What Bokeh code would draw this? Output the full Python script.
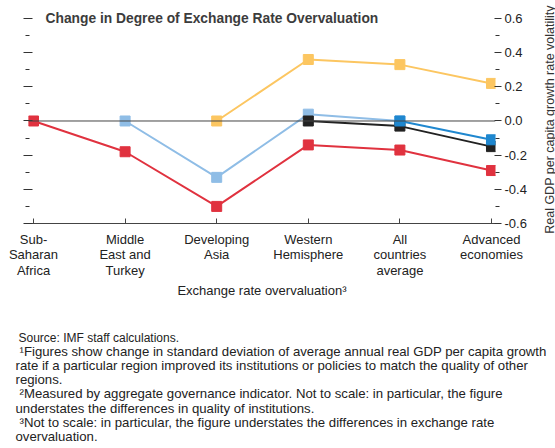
import numpy as np
from bokeh.plotting import figure
from bokeh.layouts import column, row
from bokeh.models import Range1d, LinearAxis, FixedTicker, Span, Label
from bokeh.embed import file_html
from bokeh.resources import INLINE

# ---- data ----
categories = ["Sub-\nSaharan\nAfrica", "Middle\nEast and\nTurkey", "Developing\nAsia",
              "Western\nHemisphere", "All\ncountries\naverage", "Advanced\neconomies"]
nan = float("nan")
red_series = [0.0, -0.18, -0.50, -0.14, -0.17, -0.29]
yellow_series = [nan, nan, 0.0, 0.36, 0.33, 0.22]
lightblue_series = [nan, 0.0, -0.33, 0.04, 0.0, nan]
black_series = [nan, nan, nan, 0.0, -0.03, -0.15]
blue_series = [nan, nan, nan, nan, 0.0, -0.11]
y_ticks = [-0.6, -0.4, -0.2, 0.0, 0.2, 0.4, 0.6]
y_minor_ticks = [-0.5, -0.3, -0.1, 0.1, 0.3, 0.5]
y_tick_labels = ["-0.6", "-0.4", "-0.2", "0.0", "0.2", "0.4", "0.6"]

title_text = "Change in Degree of Exchange Rate Overvaluation"
x_title = "Exchange rate overvaluation\u00b3"
y_title = "Real GDP per capita growth rate volatility"
footnotes = [
    "Source: IMF staff calculations.",
    "\u00b9Figures show change in standard deviation of average annual real GDP per capita growth",
    "rate if a particular region improved its institutions or policies to match the quality of other",
    "regions.",
    "\u00b2Measured by aggregate governance indicator. Not to scale: in particular, the figure",
    "understates the differences in quality of institutions.",
    "\u00b3Not to scale: in particular, the figure understates the differences in exchange rate",
    "overvaluation.",
]
footnote_x = [18, 19, 15, 15, 19, 15, 19, 15]
footnote_size = ["12px"] + ["13.2px"] * 7

FONT = "Liberation Sans"
x = np.arange(len(categories))

W = 555
MAIN_W = 532
MAIN_H = 305
p = figure(width=MAIN_W, height=MAIN_H, output_backend="svg", toolbar_location=None,
           x_range=Range1d(-0.0546, 5.0437), y_range=Range1d(-0.6, 0.6468),
           x_axis_location=None, y_axis_location=None,
           min_border_left=28, min_border_right=MAIN_W - 495, min_border_top=10,
           min_border_bottom=MAIN_H - 223)
p.frame_align = False
p.xgrid.visible = False
p.ygrid.visible = False
p.outline_line_color = None

# bottom axis
xax = LinearAxis(ticker=FixedTicker(ticks=list(x)),
                 major_label_overrides={int(i): c for i, c in zip(x, categories)})
xax.axis_line_color = "#444444"
xax.major_tick_line_color = "#444444"
xax.major_tick_in = 5
xax.major_tick_out = 0
xax.minor_tick_line_color = None
xax.major_label_standoff = 8
xax.major_label_text_font = FONT
xax.major_label_text_font_size = "13px"
xax.major_label_text_color = "#222222"
xax.major_label_text_line_height = 1.05
xax.axis_label = x_title
xax.axis_label_standoff = 2
xax.axis_label_text_font = FONT
xax.axis_label_text_font_style = "normal"
xax.axis_label_text_font_size = "13px"
xax.axis_label_text_color = "#222222"
p.add_layout(xax, "below")

# left axis (ticks only, no labels)
lax = LinearAxis(ticker=FixedTicker(ticks=y_ticks, minor_ticks=y_minor_ticks))
lax.axis_line_color = None
lax.major_tick_line_color = "#333333"
lax.minor_tick_line_color = "#333333"
lax.major_tick_out = 5
lax.major_tick_in = 4
lax.minor_tick_out = 3
lax.minor_tick_in = 1
lax.major_label_text_color = None
lax.major_label_text_font_size = "9px"
lax.major_label_standoff = 0
p.add_layout(lax, "left")

# right axis
rax = LinearAxis(ticker=FixedTicker(ticks=y_ticks, minor_ticks=y_minor_ticks),
                 major_label_overrides={t: l for t, l in zip(y_ticks, y_tick_labels)})
rax.axis_line_color = None
rax.major_tick_line_color = "#333333"
rax.minor_tick_line_color = "#333333"
rax.major_tick_out = 6
rax.major_tick_in = 1
rax.minor_tick_out = 4
rax.minor_tick_in = 0
rax.major_label_standoff = 3
rax.major_label_text_font = FONT
rax.major_label_text_font_size = "13px"
rax.major_label_text_color = "#222222"
p.add_layout(rax, "right")

p.add_layout(Span(location=0, dimension="width", line_color="#444444", line_width=1))

series = [
    (red_series, "#e0323f"),
    (yellow_series, "#fcc661"),
    (lightblue_series, "#8fbde6"),
    (black_series, "#222222"),
    (blue_series, "#1f87cf"),
]
for vals, col in series:
    y = np.array(vals, dtype=float)
    p.line(x, y, line_color=col, line_width=2)
    p.scatter(x, y, marker="square", size=10, fill_color=col, line_color=col)

# chart title inside the frame (screen units, relative to frame bottom-left)
p.add_layout(Label(x=17, y=205, x_units="screen", y_units="screen", text=title_text,
                   text_font=FONT, text_font_style="bold", text_font_size="13.8px",
                   text_color="#3c3c3c", text_baseline="middle"))

# rotated right-hand title in a thin figure
SIDE_W = W - MAIN_W
side = figure(width=SIDE_W, height=MAIN_H, output_backend="svg", toolbar_location=None,
              x_axis_location=None, y_axis_location=None, min_border=0,
              x_range=Range1d(0, 1), y_range=Range1d(0, 1))
side.frame_align = False
side.xgrid.visible = False
side.ygrid.visible = False
side.outline_line_color = None
side.add_layout(Label(x=549 - MAIN_W, y=MAIN_H - 119, x_units="screen", y_units="screen",
                      text=y_title, angle=np.pi / 2, text_font=FONT,
                      text_font_size="12.5px", text_color="#333333",
                      text_align="center", text_baseline="middle"))

# footnotes in a figure below
FOOT_H = 448 - MAIN_H
foot = figure(width=W, height=FOOT_H, output_backend="svg", toolbar_location=None,
              x_axis_location=None, y_axis_location=None, min_border=0,
              x_range=Range1d(0, 1), y_range=Range1d(0, 1))
foot.frame_align = False
foot.xgrid.visible = False
foot.ygrid.visible = False
foot.outline_line_color = None
for i, (t, fx, fs) in enumerate(zip(footnotes, footnote_x, footnote_size)):
    foot.add_layout(Label(x=fx, y=448 - (337 + i * 14.1), x_units="screen", y_units="screen",
                          text=t, text_font=FONT, text_font_size=fs,
                          text_color="#222222", text_baseline="middle"))

layout = column(row(p, side), foot)
open("out.html", "w").write(file_html(layout, INLINE))
